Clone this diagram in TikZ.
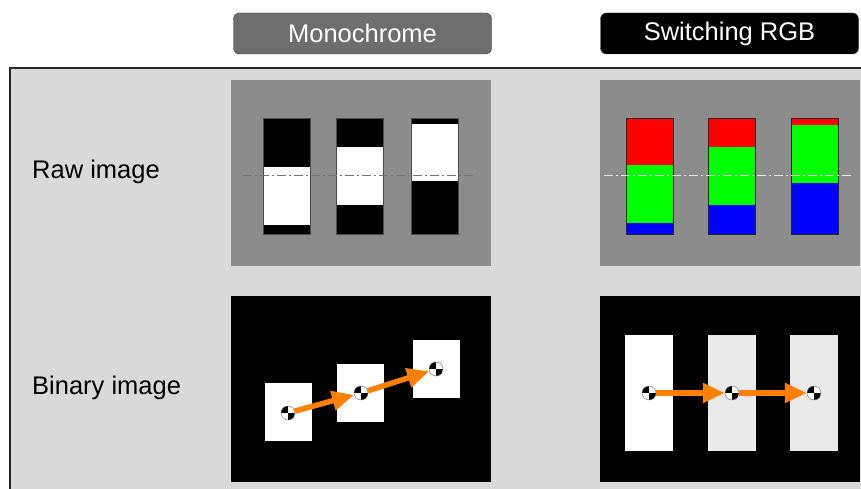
\documentclass[tikz,border=0pt]{standalone}
\usepackage{fontspec}
\setmainfont{Liberation Sans}
\usetikzlibrary{arrows.meta, positioning}

\definecolor{panelgray}{HTML}{D9D9D9}
\definecolor{rawgray}{HTML}{8C8C8C}
\definecolor{headgray}{HTML}{6E6E6E}
\definecolor{trackorange}{HTML}{FF8000}
\definecolor{dimwhite}{HTML}{E9E9E9}

\begin{document}
\begin{tikzpicture}[x=1pt, y=-1pt,
    header/.style={draw=black!80, rounded corners=6pt, minimum width=258pt, minimum height=41pt, text=white, font=\fontsize{25.5}{30}\selectfont},
    rowlabel/.style={anchor=west, inner sep=0pt, font=\fontsize{25.5}{30}\selectfont},
    centroid/.style={circle, draw=black!60, fill=white, minimum size=14pt, inner sep=0pt,
      path picture={
        \fill[black] (path picture bounding box.center) rectangle (path picture bounding box.north west);
        \fill[black] (path picture bounding box.center) rectangle (path picture bounding box.south east);
      }},
    track/.style={-{Triangle[length=22pt, width=19pt]}, line width=5.5pt, trackorange},
    scanline/.style={line width=1pt, dash pattern=on 9pt off 3pt on 2pt off 3pt}
  ]
  \useasboundingbox (0,0) rectangle (861,489);
  % Background panel
  \fill[panelgray] (10,68) rectangle (861,489);
  \draw[black!85, line width=1.3pt] (10,489) -- (10,68) -- (861,68);
  % Column headers
  \node[header, fill=headgray] (mono) at (362.5,33.5) {Monochrome};
  \node[header, fill=black] (rgb) at (729.5,33.5) {Switching RGB};
  % Row labels
  \node[rowlabel] (raw) at (32,172) {Raw image};
  \node[rowlabel] (binary) at (32,388) {Binary image};

  % Raw images
  \fill[rawgray] (231,80) rectangle (491,266);
  \fill[rawgray] (600,80) rectangle (860,266);
  \foreach \x/\a/\b in {263/167/225, 336/147/205, 411/124/181} {
    \fill[black] (\x,118) rectangle (\x+47,234);
    \fill[white] (\x,\a) rectangle (\x+47,\b);
    \draw[black!70, line width=0.6pt] (\x,118) rectangle (\x+47,234);
  }
  \foreach \x/\a/\b in {626/165/223, 708/147/205, 791/125/183} {
    \fill[red] (\x,118) rectangle (\x+47,\a);
    \fill[green] (\x,\a) rectangle (\x+47,\b);
    \fill[blue] (\x,\b) rectangle (\x+47,234);
    \draw[black!85, line width=0.8pt] (\x,118) rectangle (\x+47,234);
  }
  \draw[scanline, black!55] (243,176) -- (474,176);
  \draw[scanline, white!90!black] (604,176) -- (852,176);

  % Binary images
  \fill[black] (231,296) rectangle (491,482);
  \fill[black] (600,296) rectangle (860,482);
  \fill[white] (265,383) rectangle (312,441);
  \fill[white] (337,364) rectangle (384,422);
  \fill[white] (413,340) rectangle (460,398);
  \fill[white] (625,335) rectangle (673,451);
  \fill[dimwhite] (708,335) rectangle (756,451);
  \fill[dimwhite] (790,335) rectangle (838,451);

  % Centroids and their motion
  \node[centroid] (m1) at (288,413) {};
  \node[centroid] (m2) at (361,393) {};
  \node[centroid] (m3) at (436,369) {};
  \node[centroid] (s1) at (649,393) {};
  \node[centroid] (s2) at (732,393) {};
  \node[centroid] (s3) at (814,393) {};
  \draw[track] (m1) -- (m2);
  \draw[track] (m2) -- (m3);
  \draw[track] (s1) -- (s2);
  \draw[track] (s2) -- (s3);
\end{tikzpicture}
\end{document}
